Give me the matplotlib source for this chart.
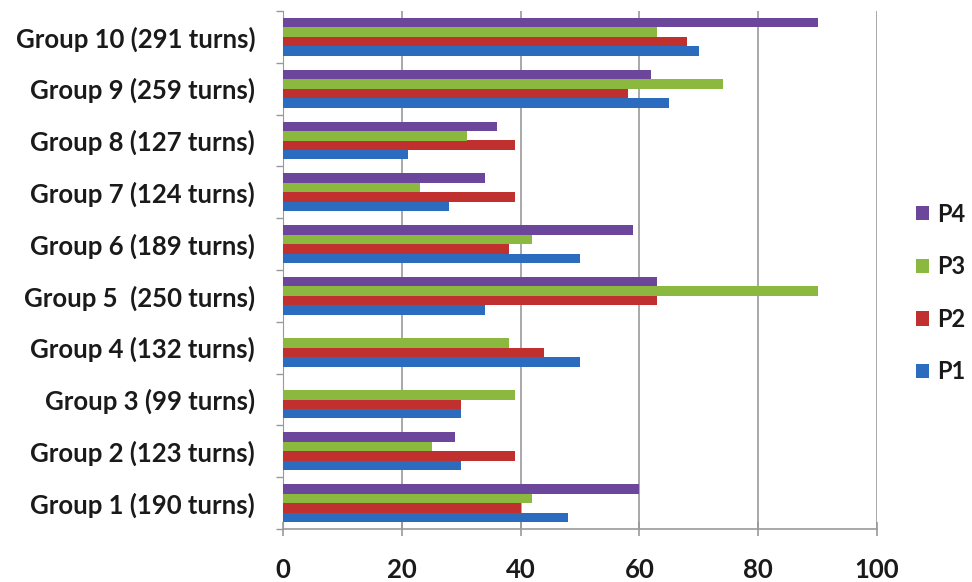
import matplotlib
matplotlib.use("Agg")
import matplotlib.pyplot as plt
import numpy as np

groups = ["Group 1 (190 turns)", "Group 2 (123 turns)", "Group 3 (99 turns)",
          "Group 4 (132 turns)", "Group 5  (250 turns)", "Group 6 (189 turns)",
          "Group 7 (124 turns)", "Group 8 (127 turns)", "Group 9 (259 turns)",
          "Group 10 (291 turns)"]
p1 = [48, 30, 30, 50, 34, 50, 28, 21, 65, 70]
p2 = [40, 39, 30, 44, 63, 38, 39, 39, 58, 68]
p3 = [42, 25, 39, 38, 90, 42, 23, 31, 74, 63]
p4 = [60, 29, 0, 0, 63, 59, 34, 36, 62, 90]
series_names = ["P1", "P2", "P3", "P4"]
colors = ["#2b6cbf", "#c0302e", "#8bb93f", "#6b469b"]
xticks = [0, 20, 40, 60, 80, 100]

plt.rcParams['font.family'] = ['Lato', 'DejaVu Sans']
fig = plt.figure(figsize=(9.72, 5.82), dpi=100)
ax = fig.add_axes([283/972, 1-529/582, (877-283)/972, (529-11)/582])

y = np.arange(len(groups))
h = 0.182
handles = []
for k, (vals, c, name) in enumerate(zip([p1, p2, p3, p4], colors, series_names)):
    b = ax.barh(y + (k - 1.5) * h, vals, height=h, color=c, label=name, zorder=3)
    handles.append(b)

ax.set_xlim(0, 100)
ax.set_ylim(-0.5, len(groups) - 0.5)
ax.set_xticks(xticks)
ax.set_xticklabels([str(v) for v in xticks], fontsize=18.5, fontweight='bold', color='#1a1a1a')
ax.set_yticks(y)
ax.set_yticklabels(groups, fontsize=18.5, fontweight='bold', color='#1a1a1a')
ax.set_yticks(np.arange(-0.5, len(groups), 1.0), minor=True)
ax.tick_params(axis='y', which='major', length=0, pad=20)
ax.tick_params(axis='y', which='minor', length=5, color='#999999', width=1)
ax.tick_params(axis='x', which='major', length=10, direction='inout', color='#999999', width=1.2, pad=16)
ax.grid(axis='x', color='#999999', linewidth=1.2, zorder=0)
for s in ['top', 'right']:
    ax.spines[s].set_visible(False)
ax.spines['left'].set_color('#999999')
ax.spines['bottom'].set_color('#999999')
ax.spines['bottom'].set_linewidth(1.2)

leg = fig.legend(handles[::-1], series_names[::-1], loc='center left',
                 bbox_to_anchor=(895/972, 1-293/582), frameon=False,
                 fontsize=17, handlelength=0.55, handleheight=0.55,
                 labelspacing=1.25, handletextpad=0.35)
for t in leg.get_texts():
    t.set_fontweight('bold')
    t.set_color('#1a1a1a')

fig.savefig("out.png", dpi=100)
